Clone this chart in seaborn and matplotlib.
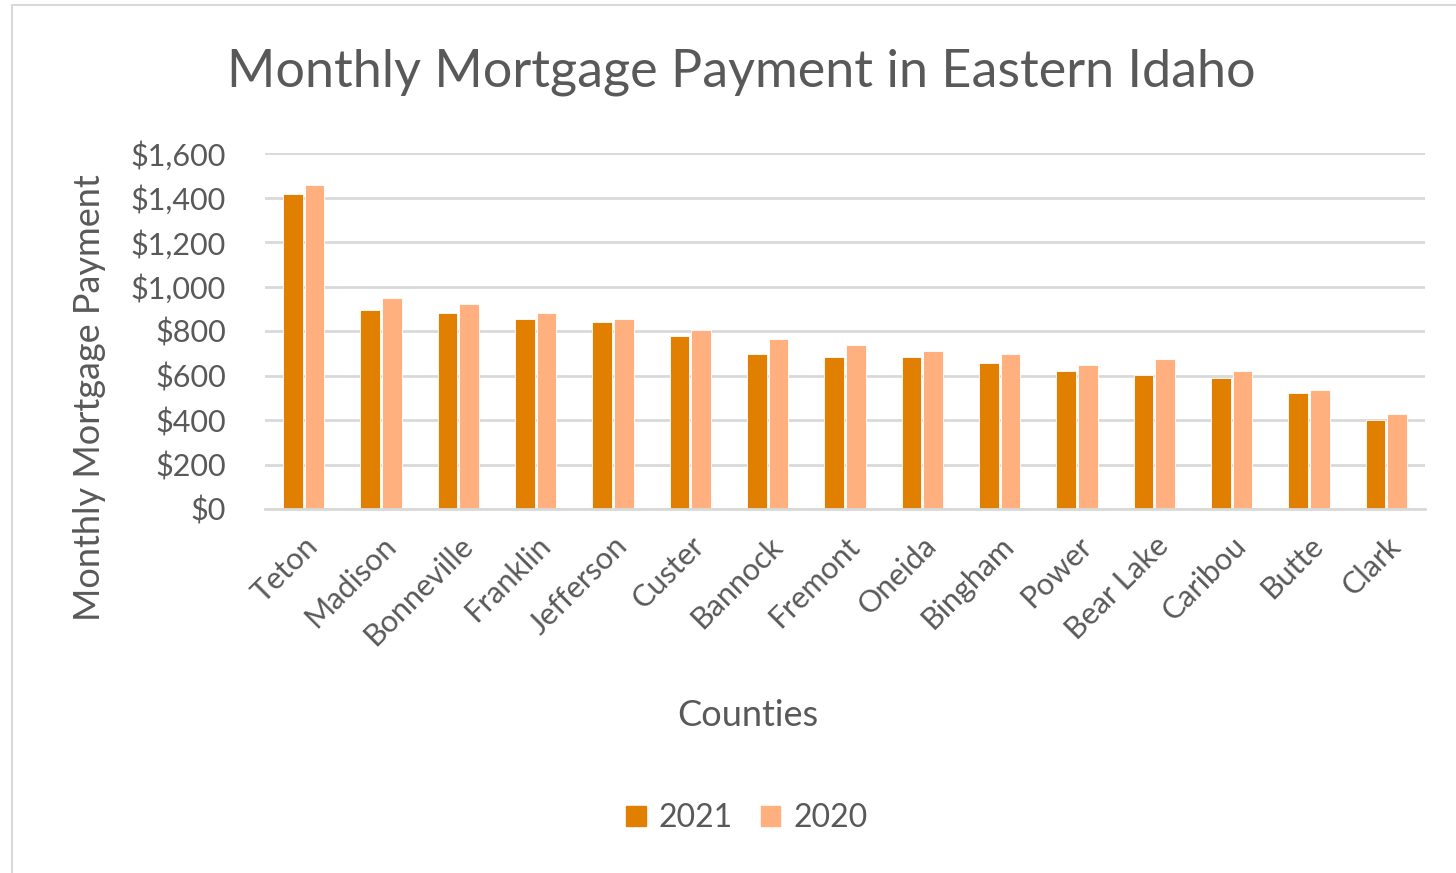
import pandas as pd
import matplotlib.pyplot as plt
import seaborn as sns
from matplotlib.patches import Rectangle
from matplotlib.ticker import FuncFormatter

counties = ['Teton', 'Madison', 'Bonneville', 'Franklin', 'Jefferson', 'Custer',
            'Bannock', 'Fremont', 'Oneida', 'Bingham', 'Power', 'Bear Lake',
            'Caribou', 'Butte', 'Clark']
pay_2021 = [1415, 893, 880, 853, 839, 776, 696, 681, 681, 656, 618, 604, 591, 523, 399]
pay_2020 = [1454, 947, 920, 880, 853, 803, 763, 736, 709, 696, 645, 672, 618, 535, 427]
years = ['2021', '2020']
colors = {'2021': '#E07F00', '2020': '#FFB07E'}

df = pd.DataFrame({
    'county': counties * 2,
    'year': [years[0]] * len(counties) + [years[1]] * len(counties),
    'payment': pay_2021 + pay_2020,
})

sns.set_style('white')
plt.rcParams['font.family'] = ['Lato', 'DejaVu Sans']
text_color = '#595959'

fig = plt.figure(figsize=(14.56, 8.73), dpi=100)
ax = fig.add_axes([265 / 1456, 1 - 509 / 873, 1160 / 1456, 356 / 873])

sns.barplot(data=df, x='county', y='payment', hue='year', palette=colors,
            saturation=1, width=0.56, gap=0.1, edgecolor='white', linewidth=0.6,
            legend=False, ax=ax)

ax.set_ylim(0, 1600)
ax.set_yticks(range(0, 1601, 200))
ax.yaxis.set_major_formatter(FuncFormatter(lambda v, p: f'${int(v):,}'))
ax.grid(axis='y', color='#D9D9D9', linewidth=2)
ax.set_axisbelow(True)
for s in ['top', 'right', 'left']:
    ax.spines[s].set_visible(False)
ax.spines['bottom'].set_color('#D9D9D9')
ax.spines['bottom'].set_linewidth(2)
ax.tick_params(axis='both', length=0, labelsize=22, colors=text_color)
ax.tick_params(axis='y', pad=28)
ax.tick_params(axis='x', pad=16)
plt.setp(ax.get_xticklabels(), rotation=45, ha='right', rotation_mode='anchor')
ax.set_xlabel('')
ax.set_ylabel('')

fig.text(741 / 1456, 1 - 72 / 873, 'Monthly Mortgage Payment in Eastern Idaho',
         ha='center', va='center', fontsize=37.5, color=text_color)
fig.text(90 / 1456, 1 - 398 / 873, 'Monthly Mortgage Payment', rotation=90,
         ha='center', va='center', fontsize=26, color=text_color)
fig.text(748 / 1456, 1 - 715 / 873, 'Counties',
         ha='center', va='center', fontsize=26, color=text_color)

# legend
handles = [Rectangle((0, 0), 1, 1, color=colors[y]) for y in years]
fig.legend(handles, years, loc='center', bbox_to_anchor=(747 / 1456, 1 - 818 / 873),
           ncol=2, frameon=False, fontsize=23, labelcolor=text_color,
           handlelength=0.6, handleheight=0.6, handletextpad=0.4, columnspacing=0.9)

# chart border
fig.patches.append(Rectangle((12 / 1456, -0.01), 1450 / 1456, 1 - 5 / 873 + 0.01,
                             transform=fig.transFigure, fill=False,
                             edgecolor='#D9D9D9', linewidth=1.5))

fig.savefig('out.png', dpi=100)
